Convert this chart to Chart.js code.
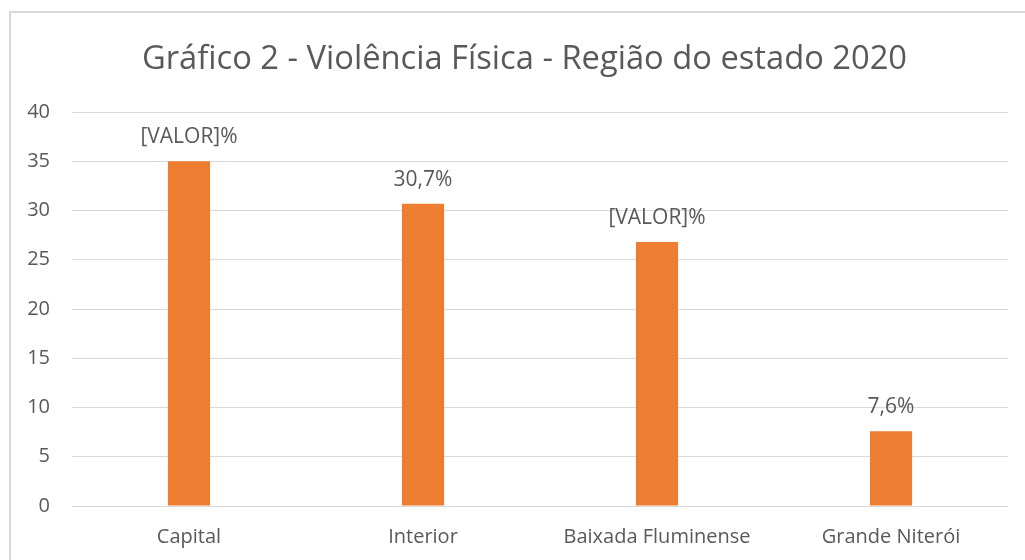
<!DOCTYPE html>
<html>
<head>
<meta charset="utf-8">
<script src="https://cdn.jsdelivr.net/npm/chart.js@4/dist/chart.umd.min.js"></script>
<style>
  html, body { margin: 0; padding: 0; background: #fff; overflow: hidden; }
  #wrap { position: relative; width: 1025px; height: 560px; }
  #frame { position: absolute; left: 9px; top: 11px; width: 1030px; height: 560px; border: 2px solid #d9d9d9; box-sizing: border-box; pointer-events: none; }
</style>
</head>
<body>
<div id="wrap">
  <canvas id="myChart" width="1025" height="560"></canvas>
  <div id="frame"></div>
</div>
<script>
const categories = ["Capital", "Interior", "Baixada Fluminense", "Grande Niterói"];
const values = [35.0, 30.7, 26.8, 7.6];
const valueLabels = ["[VALOR]%", "30,7%", "[VALOR]%", "7,6%"];
const yTicks = [0, 5, 10, 15, 20, 25, 30, 35, 40];

const FONT = "'Open Sans', 'Noto Sans', sans-serif";
const TEXT = "#595959";

// draws the text above each bar
const barLabels = {
  id: "barLabels",
  afterLayout(chart) {
    // title in the original sits a bit right of centre
    if (chart.titleBlock) chart.titleBlock.left += 21;
  },
  afterDatasetsDraw(chart) {
    const { ctx } = chart;
    const meta = chart.getDatasetMeta(0);
    ctx.save();
    ctx.font = "21px " + FONT;
    ctx.fillStyle = TEXT;
    ctx.textAlign = "center";
    ctx.textBaseline = "alphabetic";
    meta.data.forEach((bar, i) => {
      ctx.fillText(valueLabels[i], bar.x, bar.y - 18);
    });
    ctx.restore();
  }
};

(function () {
  const ctx = document.getElementById("myChart");

  new Chart(ctx, {
    type: "bar",
    data: {
      labels: categories,
      datasets: [
        {
          label: "Violência Física",
          data: values,
          backgroundColor: "#ed7d31",
          barPercentage: 0.18,
          categoryPercentage: 1
        }
      ]
    },
    options: {
      responsive: false,
      animation: false,
      layout: {
        padding: { left: 20, right: 17, top: 0, bottom: 0 }
      },
      scales: {
        x: {
          afterFit(scale) {
            scale.height = 54;
          },
          grid: { display: false, drawTicks: false },
          border: { display: false },
          ticks: { color: TEXT, font: { family: FONT, size: 20 }, padding: 19 }
        },
        y: {
          min: 0,
          max: 40,
          afterBuildTicks(scale) {
            scale.ticks = yTicks.map(v => ({ value: v }));
          },
          afterFit(scale) {
            scale.width = 52;
          },
          grid: { color: "#d9d9d9", drawTicks: false },
          border: { display: false },
          ticks: { color: TEXT, font: { family: FONT, size: 20 }, padding: 22 }
        }
      },
      plugins: {
        legend: { display: false },
        tooltip: { enabled: false },
        title: {
          display: true,
          text: "Gráfico 2 - Violência Física - Região do estado 2020",
          color: TEXT,
          font: { family: FONT, size: 32.7, weight: "normal" },
          padding: { top: 40, bottom: 32.8 }
        }
      }
    },
    plugins: [barLabels]
  });
})();
</script>
</body>
</html>
